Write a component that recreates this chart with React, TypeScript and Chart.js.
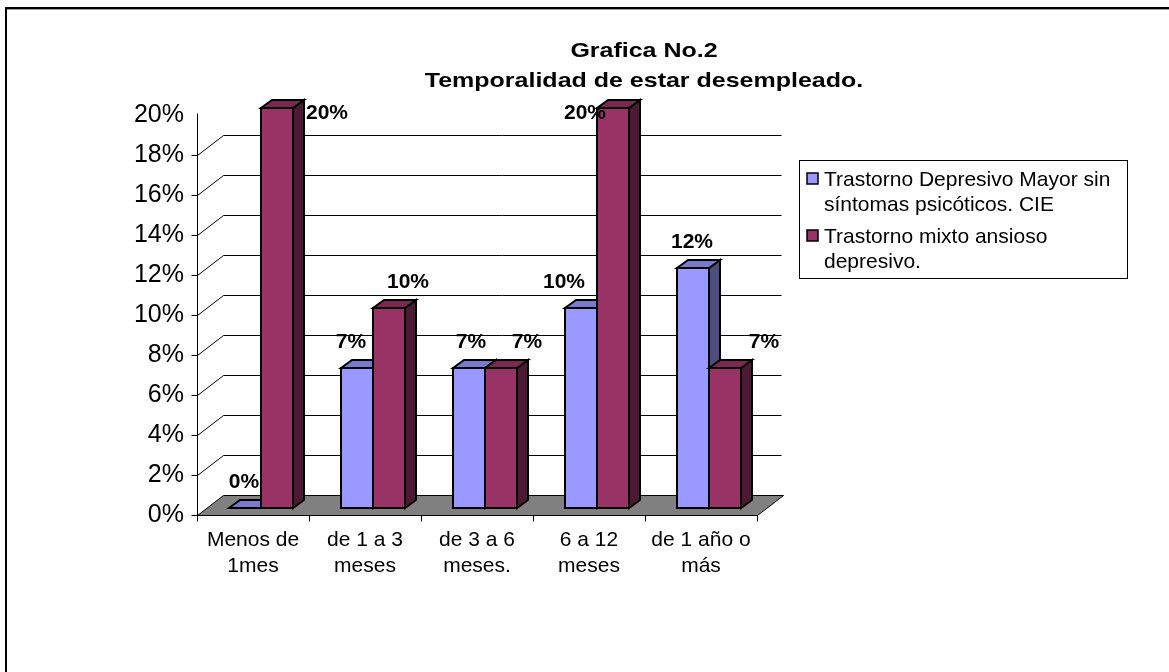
import React, { useEffect, useRef } from "react";
import { Chart, registerables } from "chart.js";

Chart.register(...registerables);

// ---------- data ----------
const titleLines = ["Grafica No.2", "Temporalidad de estar desempleado."];
const categories = [
  ["Menos de", "1mes"],
  ["de 1 a 3", "meses"],
  ["de 3 a 6", "meses."],
  ["6 a 12", "meses"],
  ["de 1 año o", "más"],
];
const seriesNames = [
  "Trastorno Depresivo Mayor sin síntomas psicóticos. CIE",
  "Trastorno mixto ansioso depresivo.",
];
const depresivoMayor = [0, 7, 7, 10, 12];
const mixtoAnsioso = [20, 10, 7, 20, 7];
const yMin = 0;
const yMax = 20;
const yStep = 2;

// ---------- style ----------
const FONT = "'Liberation Sans', Arial, Helvetica, sans-serif";
const WALL_DX = 26;
const WALL_DY = -20;
const BAR_DX = 8;
const BAR_DY = -7;
const DEPTH_X = 11;
const DEPTH_Y = -8;
const FACES = [
  { front: "#9999FF", top: "#7A7ACC", side: "#4D4D80" },
  { front: "#993366", top: "#7A2952", side: "#4D1A33" },
];
// horizontal nudges of the value labels relative to their bar (per category: [series1, series2])
const LABEL_NUDGE = [
  [-1, 50],
  [-6, 19],
  [2, 26],
  [-17, -28],
  [-1, 39],
];

const h = (v: number) => Math.round(v) + 0.5;

function line(ctx: CanvasRenderingContext2D, x1: number, y1: number, x2: number, y2: number) {
  ctx.beginPath();
  ctx.moveTo(x1, y1);
  ctx.lineTo(x2, y2);
  ctx.stroke();
}

function poly(ctx: CanvasRenderingContext2D, pts: number[][], fill: string) {
  ctx.beginPath();
  ctx.moveTo(pts[0][0], pts[0][1]);
  for (let i = 1; i < pts.length; i++) ctx.lineTo(pts[i][0], pts[i][1]);
  ctx.closePath();
  ctx.fillStyle = fill;
  ctx.fill();
  ctx.stroke();
}

function wrap(ctx: CanvasRenderingContext2D, text: string, maxW: number) {
  const words = text.split(" ");
  const out: string[] = [];
  let cur = "";
  for (const w of words) {
    const t = cur ? cur + " " + w : w;
    if (ctx.measureText(t).width > maxW && cur) {
      out.push(cur);
      cur = w;
    } else cur = t;
  }
  if (cur) out.push(cur);
  return out;
}

const scene3d = {
  id: "scene3d",
  beforeDraw(chart: any) {
    const { ctx, width, height } = chart;
    ctx.save();
    ctx.fillStyle = "#fff";
    ctx.fillRect(0, 0, width, height);
    // outer frame (top & left)
    ctx.fillStyle = "#000";
    ctx.fillRect(5, 7, width - 5, 2);
    ctx.fillRect(5, 7, 2, height - 7);
    ctx.fillStyle = "#9a9a9a";
    ctx.fillRect(7, 9, width - 7, 1);
    // title (slightly stretched horizontally, as in the original rendering)
    ctx.fillStyle = "#000";
    ctx.font = `bold 21px ${FONT}`;
    ctx.textAlign = "center";
    ctx.textBaseline = "alphabetic";
    const sx = 1.19;
    ctx.translate(644, 0);
    ctx.scale(sx, 1);
    ctx.fillText(titleLines[0], 0, 57);
    ctx.fillText(titleLines[1], 0, 87);
    ctx.restore();
  },
  beforeDatasetsDraw(chart: any) {
    const { ctx, chartArea, scales } = chart;
    const { left, right, top, bottom } = chartArea;
    const ys = scales.y;
    ctx.save();
    ctx.strokeStyle = "#000";
    ctx.lineWidth = 1;

    // floor
    poly(
      ctx,
      [
        [h(left), h(bottom)],
        [h(right), h(bottom)],
        [h(right + WALL_DX), h(bottom + WALL_DY)],
        [h(left + WALL_DX), h(bottom + WALL_DY)],
      ],
      "#808080"
    );

    // back wall grid + side diagonals + y ticks
    for (let v = yMin; v <= yMax; v += yStep) {
      const py = ys.getPixelForValue(v);
      if (v < yMax) line(ctx, h(left - 6), h(py), h(left), h(py));
      if (v > yMin && v < yMax) {
        line(ctx, h(left), h(py), h(left + WALL_DX), h(py + WALL_DY));
        line(ctx, h(left + WALL_DX), h(py + WALL_DY), h(right + WALL_DX - 2), h(py + WALL_DY));
      }
    }
    // y axis
    line(ctx, h(left), h(bottom), h(left), h(top - 2));
    // x axis + ticks
    line(ctx, h(left), h(bottom), h(right), h(bottom));
    const n = categories.length;
    const step = (right - left) / n;
    for (let i = 0; i <= n; i++) {
      const px = left + i * step;
      line(ctx, h(px), h(bottom), h(px), h(bottom + 6));
    }

    // bars (side, top, front) drawn category by category
    ctx.lineWidth = 2;
    ctx.lineJoin = "miter";
    const metas = chart.data.datasets.map((_: any, d: number) => chart.getDatasetMeta(d));
    for (let i = 0; i < n; i++) {
      metas.forEach((meta: any, d: number) => {
        const el = meta.data[i];
        const p = el.getProps(["x", "y", "base", "width"], true);
        const l = Math.round(p.x - p.width / 2 + BAR_DX);
        const r = Math.round(p.x + p.width / 2 + BAR_DX);
        const t = Math.round(p.y + BAR_DY);
        const b = Math.round(p.base + BAR_DY);
        const f = FACES[d];
        poly(ctx, [[r, t], [r + DEPTH_X, t + DEPTH_Y], [r + DEPTH_X, b + DEPTH_Y], [r, b]], f.side);
        poly(ctx, [[l, t], [l + DEPTH_X, t + DEPTH_Y], [r + DEPTH_X, t + DEPTH_Y], [r, t]], f.top);
        ctx.beginPath();
        ctx.rect(l, t, r - l, b - t);
        ctx.fillStyle = f.front;
        ctx.fill();
        ctx.stroke();
      });
    }
    ctx.restore();
    return false;
  },
  afterDraw(chart: any) {
    const { ctx, chartArea } = chart;
    ctx.save();
    // value labels
    ctx.fillStyle = "#000";
    ctx.font = `bold 21px ${FONT}`;
    ctx.textAlign = "center";
    ctx.textBaseline = "middle";
    chart.data.datasets.forEach((ds: any, d: number) => {
      const meta = chart.getDatasetMeta(d);
      meta.data.forEach((el: any, i: number) => {
        const p = el.getProps(["x", "y"], true);
        const t = p.y + BAR_DY;
        const ly = Math.max(t - 26, chartArea.top - 2);
        const lx = p.x + BAR_DX + LABEL_NUDGE[i][d];
        ctx.fillText(ds.data[i] + "%", lx, ly);
      });
    });

    // legend
    const bx = chartArea.right + 42;
    const by = 160;
    const bw = 328;
    const bh = 118;
    ctx.strokeStyle = "#000";
    ctx.lineWidth = 1;
    ctx.strokeRect(h(bx), h(by), bw, bh);
    ctx.font = `21px ${FONT}`;
    ctx.textAlign = "left";
    ctx.textBaseline = "alphabetic";
    let base = by + 26;
    chart.data.datasets.forEach((ds: any, d: number) => {
      ctx.fillStyle = FACES[d].front;
      ctx.fillRect(bx + 8, base - 13, 11, 11);
      ctx.strokeStyle = "#000";
      ctx.lineWidth = 1.5;
      ctx.strokeRect(bx + 8, base - 13, 11, 11);
      ctx.fillStyle = "#000";
      const lines = wrap(ctx, ds.label, 300);
      lines.forEach((ln, k) => ctx.fillText(ln, bx + 25, base + k * 25));
      base += lines.length * 25 + 7;
    });
    ctx.restore();
  },
};

export default function App() {
  const ref = useRef<HTMLCanvasElement | null>(null);
  useEffect(() => {
    document.body.style.margin = "0";
    const canvas = ref.current!;
    const chart = new Chart(canvas, {
      type: "bar",
      data: {
        labels: categories as any,
        datasets: [
          { label: seriesNames[0], data: depresivoMayor, backgroundColor: FACES[0].front },
          { label: seriesNames[1], data: mixtoAnsioso, backgroundColor: FACES[1].front },
        ],
      },
      options: {
        responsive: false,
        animation: false,
        devicePixelRatio: 1,
        events: [],
        datasets: { bar: { categoryPercentage: 0.5715, barPercentage: 1 } },
        layout: { padding: { left: 0, top: 115, right: 412, bottom: 0 } },
        plugins: {
          legend: { display: false },
          title: { display: false },
          tooltip: { enabled: false },
        },
        scales: {
          x: {
            grid: { display: false, drawTicks: false, tickLength: 0 },
            border: { display: false },
            ticks: {
              color: "#000",
              font: { family: FONT, size: 21, lineHeight: 1.2 },
              padding: 13,
              maxRotation: 0,
              autoSkip: false,
            },
            afterFit: (s: any) => {
              s.height = 157;
            },
          },
          y: {
            min: yMin,
            max: yMax,
            grid: { display: false, drawTicks: false, tickLength: 0 },
            border: { display: false },
            ticks: {
              stepSize: yStep,
              color: "#000",
              font: { family: FONT, size: 25 },
              padding: 13,
              callback: (v: any) => v + "%",
            },
            afterFit: (s: any) => {
              s.width = 197;
            },
          },
        },
      },
      plugins: [scene3d],
    });
    return () => chart.destroy();
  }, []);
  return (
    <div style={{ width: 1169, height: 672, background: "#fff" }}>
      <canvas ref={ref} width={1169} height={672} style={{ display: "block", width: 1169, height: 672 }} />
    </div>
  );
}
